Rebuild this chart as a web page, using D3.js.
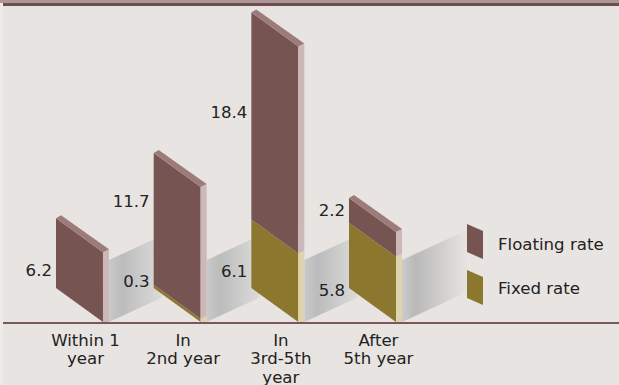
<!DOCTYPE html>
<html><head><meta charset="utf-8">
<script src="https://cdn.jsdelivr.net/npm/d3@7"></script>
<style>html,body{margin:0;padding:0;background:#eeeae8;}svg{display:block;}</style>
</head><body><svg id="c" width="619" height="385"></svg>
<script>
// ---- data ----
const categories = ["Within 1 year", "In 2nd year", "In 3rd-5th year", "After 5th year"];
const categoryLines = [["Within 1", "year"], ["In", "2nd year"], ["In", "3rd-5th", "year"], ["After", "5th year"]];
const fixedRate = [0, 0.3, 6.1, 5.8];
const floatingRate = [6.2, 11.7, 18.4, 2.2];
const seriesNames = ["Floating rate", "Fixed rate"];

// ---- layout (not data) ----
const W = 619, H = 385, baseY = 322;
const slant = 34, depthX = 6, depthY = 3;
const floatLabelNudge = [17, -18, -3.5, 0];
const fixedLabelNudge = [0, -5, 17.5, 35];
const fontSize = 16.6;
const colors = {
  floatFront: "#765452", floatTop: "#9c7b7a", floatSide: "#cdb8b9",
  fixFront: "#8c772e", fixTop: "#b3a25a", fixSide: "#ddd3ae"
};

const svg = d3.select("#c");
svg.append("rect").attr("x", 3).attr("y", 0).attr("width", W - 3).attr("height", H).attr("fill", "#e8e4e1");
svg.append("rect").attr("x", 0).attr("y", 0).attr("width", W).attr("height", 3).attr("fill", "#ad9696");
svg.append("rect").attr("x", 3).attr("y", 3).attr("width", W - 3).attr("height", 3).attr("fill", "#6f4d4d");

const x = d3.scaleBand().domain(categories).range([30.6, 421.4]).paddingInner(0.519).paddingOuter(0.26);
const y = d3.scaleLinear().domain([0, 25]).range([baseY, baseY - 25 * 11.25]);
const bw = x.bandwidth();

const defs = svg.append("defs");
const g1 = defs.append("linearGradient").attr("id", "gmid").attr("x1", "0").attr("x2", "1").attr("y1", "0").attr("y2", "0");
g1.append("stop").attr("offset", "0").attr("stop-color", "#c9c9c9");
g1.append("stop").attr("offset", "0.25").attr("stop-color", "#bcbcbc");
g1.append("stop").attr("offset", "1").attr("stop-color", "#dcdbda");
const g2 = defs.append("linearGradient").attr("id", "gend").attr("x1", "0").attr("x2", "1").attr("y1", "0").attr("y2", "0");
g2.append("stop").attr("offset", "0").attr("stop-color", "#cbcbcb");
g2.append("stop").attr("offset", "0.2").attr("stop-color", "#b9b9b9");
g2.append("stop").attr("offset", "1").attr("stop-color", "#e8e4e1");

const line = d3.line();
const planeH = 62, planeSlope = 0.46;

// gray connecting planes
categories.forEach((c, i) => {
  const x0 = x(c) + bw + depthX;
  const x1 = i < categories.length - 1 ? x(categories[i + 1]) + 8 : x0 + 66;
  const dy = (x1 - x0) * planeSlope;
  svg.append("path")
    .attr("d", line([[x0, baseY], [x0, baseY - planeH], [x1, baseY - planeH - dy], [x1, baseY - dy]]) + "Z")
    .attr("fill", i < categories.length - 1 ? "url(#gmid)" : "url(#gend)");
});

// bars
function seg(c, v0, v1, front, top, side, drawTop) {
  const L = x(c), R = L + bw;
  const y0 = y(v0), y1 = y(v1);
  const gb = svg.append("g");
  gb.append("path").attr("d", line([[L, y1 - slant], [R, y1], [R, y0], [L, y0 - slant]]) + "Z").attr("fill", front);
  gb.append("path").attr("d", line([[R, y1], [R + depthX, y1 - depthY], [R + depthX, v0 === 0 ? y0 : y0 - depthY], [R, y0]]) + "Z").attr("fill", side);
  if (drawTop) {
    gb.append("path").attr("d", line([[L, y1 - slant], [R, y1], [R + depthX, y1 - depthY], [L + depthX - 1, y1 - slant - depthY]]) + "Z").attr("fill", top);
  }
}
categories.forEach((c, i) => {
  const f = fixedRate[i], fl = floatingRate[i];
  if (f > 0) seg(c, 0, f, colors.fixFront, colors.fixTop, colors.fixSide, false);
  seg(c, f, f + fl, colors.floatFront, colors.floatTop, colors.floatSide, true);
});

// axis line
svg.append("rect").attr("x", 3).attr("y", baseY).attr("width", W - 3).attr("height", 2).attr("fill", "#7b5858");

const font = "'DejaVu Sans', sans-serif";
// value labels
categories.forEach((c, i) => {
  const L = x(c);
  const f = fixedRate[i], fl = floatingRate[i];
  const midF = ((y(f) - slant) + (y(f + fl) - slant)) / 2 + floatLabelNudge[i];
  svg.append("text").attr("x", L - 4).attr("y", midF).attr("dy", "0.36em")
    .attr("text-anchor", "end").attr("font-family", font).attr("font-size", fontSize).attr("fill", "#222")
    .text(d3.format(".1f")(fl));
  if (f > 0) {
    const midX = ((y(0) - slant) + (y(f) - slant)) / 2 + fixedLabelNudge[i];
    svg.append("text").attr("x", L - 4).attr("y", midX).attr("dy", "0.36em")
      .attr("text-anchor", "end").attr("font-family", font).attr("font-size", fontSize).attr("fill", "#222")
      .text(d3.format(".1f")(f));
  }
});

// category labels
categories.forEach((c, i) => {
  const cx = x(c) + bw / 2 + 6;
  const t = svg.append("text").attr("text-anchor", "middle").attr("font-family", font)
    .attr("font-size", fontSize).attr("fill", "#222");
  categoryLines[i].forEach((ln, j) => {
    t.append("tspan").attr("x", cx).attr("y", 345.5 + j * 18.5).text(ln);
  });
});

// legend
const legX = 467, legW = 16, legSl = 7, legH = 28;
[[224, colors.floatFront, seriesNames[0], 249.5], [270, colors.fixFront, seriesNames[1], 293.5]].forEach(([ty, col, name, by]) => {
  svg.append("path").attr("d", line([[legX, ty], [legX + legW, ty + legSl], [legX + legW, ty + legSl + legH], [legX, ty + legH]]) + "Z").attr("fill", col);
  svg.append("text").attr("x", 498).attr("y", by).attr("font-family", font).attr("font-size", fontSize).attr("fill", "#222").text(name);
});
</script></body></html>
